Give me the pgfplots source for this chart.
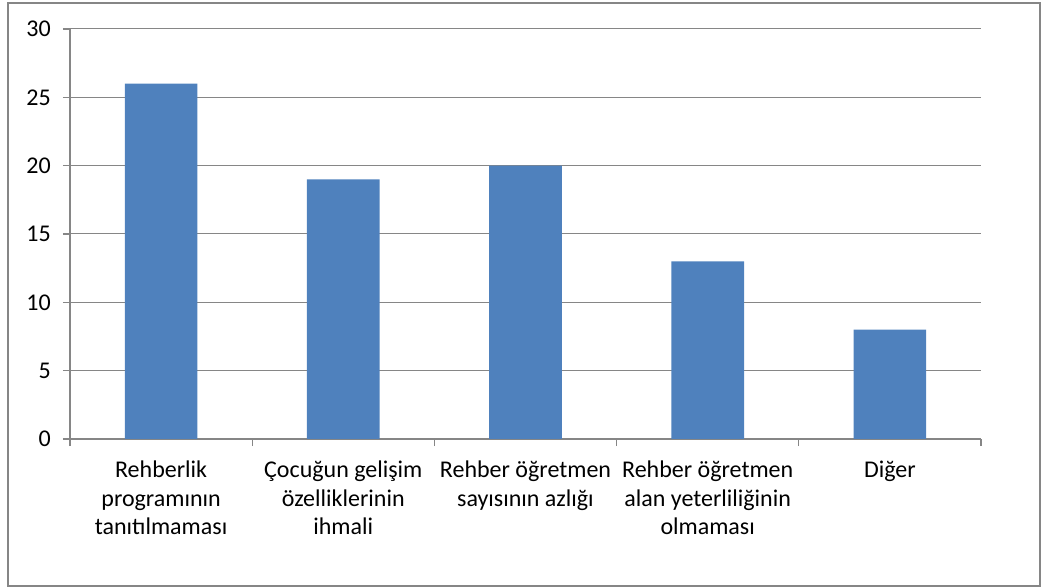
\documentclass[border=0pt]{standalone}
\usepackage{pgfplots}
\pgfplotsset{compat=1.18}
\usepackage{fontspec}
\setmainfont{Carlito}
\definecolor{barblue}{HTML}{4F81BD}
\definecolor{gridgray}{HTML}{868686}
\begin{document}
\fontsize{18}{21.4}\selectfont
\begin{tikzpicture}
\begin{axis}[
  scale only axis,
  width=683.25pt,
  height=307.5pt,
  ybar,
  bar width=54.5pt,
  xmin=-0.5, xmax=4.5,
  ymin=0, ymax=30,
  ytick={0,5,...,30},
  xtick={0,...,4},
  xticklabels={
    {Rehberlik\\programının\\tanıtılmaması},
    {Çocuğun gelişim\\özelliklerinin\\ihmali},
    {Rehber öğretmen\\sayısının azlığı},
    {Rehber öğretmen\\alan yeterliliğinin\\olmaması},
    {Diğer}},
  minor xtick={-0.5,0.5,...,4.5},
  axis x line*=bottom,
  axis y line*=left,
  axis line style={gridgray, line width=0.9pt},
  ymajorgrids=true,
  grid style={gridgray, line width=0.75pt},
  tick style={gridgray, line width=0.9pt},
  major tick length=5.25pt,
  minor tick length=5.25pt,
  xtick style={draw=none},
  minor x tick style={draw=gridgray},
  tick align=outside,
  every tick label/.append style={font=\fontsize{18}{21.4}\selectfont, text=black},
  xticklabel style={align=center, yshift=-5pt},
  yticklabel style={xshift=-3pt},
  /pgf/number format/assume math mode=true,
]
\addplot[fill=barblue, draw=none] coordinates {
(0,26) (1,19) (2,20) (3,13) (4,8)
};
\end{axis}
\draw[gridgray, line width=0.9pt] ([shift={(-46.5pt,-110.25pt)}]current axis.south west) rectangle ([shift={(44.25pt,19.5pt)}]current axis.north east);
\useasboundingbox ([shift={(-52.5pt,-111.75pt)}]current axis.south west) rectangle ([shift={(45pt,21.75pt)}]current axis.north east);
\end{tikzpicture}
\end{document}
